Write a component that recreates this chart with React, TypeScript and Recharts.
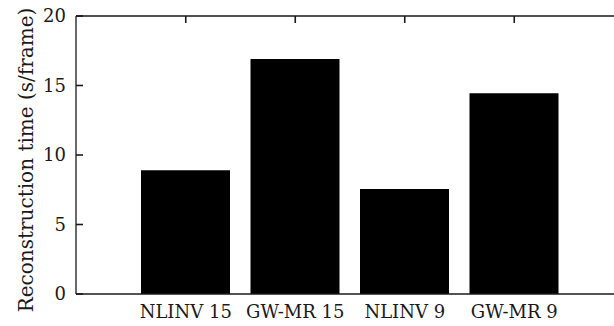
import { Bar, BarChart, XAxis, YAxis } from "recharts";

const categories = ["NLINV 15", "GW-MR 15", "NLINV 9", "GW-MR 9"];
const times = [8.9, 16.9, 7.55, 14.45];
const yTicks = [0, 5, 10, 15, 20];

const data = categories.map((name, i) => ({ name, time: times[i] }));

const FONT = "'DejaVu Serif', 'Liberation Serif', serif";
const INK = "#1a1a1a";
const PLOT_TOP = 16;
const AXIS_W = 76;
const TICK_GAP = 10;
const TICK_LEN = 7;

// y tick: label left of the axis, short tick pointing into the plot
function YTick({ x, y, payload }: any) {
  const ax = Number(x) + TICK_GAP;
  return (
    <g>
      <line x1={ax} x2={ax + TICK_LEN} y1={Number(y)} y2={Number(y)} stroke={INK} strokeWidth={1.6} />
      <text x={x} y={y} dy="0.35em" textAnchor="end" fill={INK} fontSize={18} fontFamily={FONT}>
        {payload.value}
      </text>
    </g>
  );
}

// x tick: label under the axis, mirrored tick hanging from the top frame
function XTick({ x, y, payload }: any) {
  return (
    <g>
      <line x1={x} x2={x} y1={PLOT_TOP} y2={PLOT_TOP + TICK_LEN} stroke={INK} strokeWidth={1.6} />
      <text x={x} y={y} dy="0.71em" textAnchor="middle" fill={INK} fontSize={18} fontFamily={FONT}>
        {payload.value}
      </text>
    </g>
  );
}

function YLabel({ viewBox }: any) {
  const cy = viewBox ? viewBox.y + viewBox.height / 2 + 5 : 160;
  return (
    <text
      transform={`translate(33, ${cy}) rotate(-90)`}
      textAnchor="middle"
      fill={INK}
      fontSize={20}
      fontFamily={FONT}
    >
      Reconstruction time (s/frame)
    </text>
  );
}

export default function App() {
  return (
    <div
      style={{
        position: "fixed",
        left: 0,
        top: 0,
        width: 614,
        height: 326,
        overflow: "hidden",
        background: "#fff",
      }}
    >
      <BarChart
        width={624}
        height={326}
        data={data}
        margin={{ top: PLOT_TOP, right: 0, bottom: 0, left: 0 }}
      >
        <XAxis
          dataKey="name"
          xAxisId="bottom"
          height={32}
          padding={{ left: 55, right: 55 }}
          tickLine={false}
          tickSize={0}
          tickMargin={11}
          tick={<XTick />}
          interval={0}
          axisLine={{ stroke: INK, strokeWidth: 1.3 }}
        />
        <XAxis
          dataKey="name"
          xAxisId="top"
          orientation="top"
          mirror
          padding={{ left: 55, right: 55 }}
          tick={false}
          tickLine={false}
          axisLine={{ stroke: INK, strokeWidth: 1.3 }}
        />
        <YAxis
          yAxisId="left"
          width={AXIS_W}
          domain={[0, 20]}
          ticks={yTicks}
          tickLine={false}
          tickSize={0}
          tickMargin={TICK_GAP}
          tick={<YTick />}
          axisLine={{ stroke: INK, strokeWidth: 1.3 }}
          label={<YLabel />}
        />
        <Bar
          dataKey="time"
          xAxisId="bottom"
          yAxisId="left"
          fill="#000"
          barSize={89}
          isAnimationActive={false}
        />
      </BarChart>
    </div>
  );
}
